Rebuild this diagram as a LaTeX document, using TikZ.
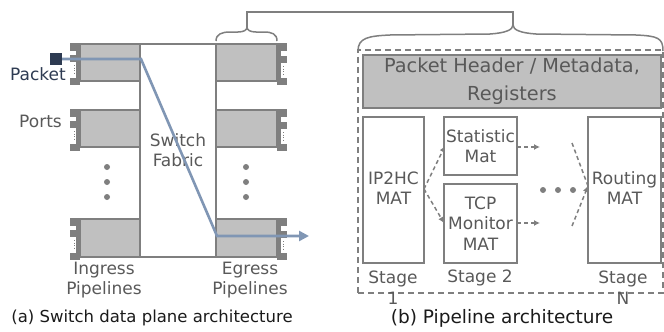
\documentclass[tikz,border=0pt]{standalone}
\usepackage{fontspec}
\setmainfont{DejaVu Sans}
\usetikzlibrary{arrows.meta}
\definecolor{lgray}{HTML}{7F7F7F}
\definecolor{fgray}{HTML}{C0C0C0}
\definecolor{tgray}{HTML}{595959}
\definecolor{navy}{HTML}{2E3B52}
\definecolor{pblue}{HTML}{8096B4}
\definecolor{cap}{HTML}{1A1A1A}
\tikzset{
  pipebox/.style={draw=lgray, line width=1.5pt, fill=fgray, inner sep=0pt, outer sep=0pt, anchor=north west},
  wbox/.style={draw=lgray, line width=1.5pt, fill=white, inner sep=0pt, outer sep=0pt, anchor=north west},
  txt/.style={text=tgray, font=\fontsize{17}{20.5}\selectfont, align=center, inner sep=0pt},
  captxt/.style={text=cap, inner sep=0pt},
  tab/.style={fill=lgray},
  dotcol/.style={fill=lgray},
  flow/.style={draw=pblue, line width=2.6pt},
  darr/.style={draw=lgray, line width=1.5pt, dash pattern=on 4pt off 3pt, -{Latex[length=6pt,width=6pt]}},
  dline/.style={draw=lgray, line width=1.5pt, dash pattern=on 4pt off 3pt},
  brace/.style={draw=lgray, line width=1.5pt},
}
\newcommand{\porttabsL}[1]{%
  \fill[tab] (70,#1-1) rectangle (80,#1+7);
  \fill[tab] (76,#1+7) rectangle (80,#1+41);
  \fill[tab] (70,#1+11) rectangle (80,#1+18);
  \fill[tab] (70,#1+34) rectangle (80,#1+41);
  \draw[lgray, line width=0.8pt, dash pattern=on 1pt off 1.5pt] (74,#1+21) -- (74,#1+31);
}
\newcommand{\porttabsR}[1]{%
  \fill[tab] (277,#1-1) rectangle (287,#1+7);
  \fill[tab] (277,#1+7) rectangle (281,#1+41);
  \fill[tab] (277,#1+12) rectangle (287,#1+19);
  \fill[tab] (277,#1+34) rectangle (287,#1+41);
  \draw[lgray, line width=0.8pt, dash pattern=on 1pt off 1.5pt] (283,#1+22) -- (283,#1+31);
}
\begin{document}
\begin{tikzpicture}[x=1pt, y=-1pt]
\useasboundingbox (0,0) rectangle (664,332);
% switch fabric
\node[wbox, minimum width=76pt, minimum height=213pt] (fab) at (140,44) {};
\node[txt] (fabt) at (178,150) {Switch\\Fabric};
% ingress
\node[pipebox, minimum width=60pt, minimum height=37pt] (in1) at (80,44) {};
\node[pipebox, minimum width=60pt, minimum height=37pt] (in2) at (80,110) {};
\node[pipebox, minimum width=60pt, minimum height=38pt] (in3) at (80,219) {};
% egress
\node[pipebox, minimum width=61pt, minimum height=37pt] (eg1) at (216,44) {};
\node[pipebox, minimum width=61pt, minimum height=37pt] (eg2) at (216,110) {};
\node[pipebox, minimum width=61pt, minimum height=38pt] (eg3) at (216,219) {};
\porttabsL{44}
\porttabsL{110}
\porttabsL{219}
\porttabsR{44}
\porttabsR{110}
\porttabsR{219}
% vertical dots
\foreach \yy in {167,182,197}{
  \fill[dotcol] (107,\yy) circle (3pt);
  \fill[dotcol] (246,\yy) circle (3pt);
}
% labels
\node[text=navy, font=\fontsize{17}{20}\selectfont, inner sep=0pt, anchor=east] (pktl) at (66,74) {Packet};
\node[txt, anchor=east] (ports) at (62,121) {Ports};
\node[txt] (ingl) at (104,280) {Ingress\\Pipelines};
\node[txt] (egl) at (250,280) {Egress\\Pipelines};
% packet flow
\node[fill=navy, minimum size=12pt, inner sep=0pt] (pkt) at (56,59) {};
\coordinate (f1) at (141,59);
\coordinate (f2) at (217,236);
\coordinate (f3) at (309,236);
\draw[flow, -{Triangle[length=10pt,width=10pt]}] (pkt.east) -- (f1) -- (f2) -- (f3);
% small brace over egress
\coordinate (sb) at (247,27);
\draw[brace] (216,41) .. controls (216,34) and (222,32) .. (230,32) -- (238,32) .. controls (244,32) and (247,30) .. (sb)
  .. controls (247,30) and (250,32) .. (256,32) -- (264,32) .. controls (272,32) and (277,34) .. (277,41);
% big brace
\coordinate (bb) at (513,25);
\draw[brace] (358,51) .. controls (358,38) and (368,36) .. (390,35) -- (490,34) .. controls (505,33) and (513,30) .. (bb)
  .. controls (513,30) and (521,33) .. (536,34) -- (636,35) .. controls (658,36) and (663,38) .. (663,51);
\draw[brace] (sb) |- (513,12) -- (bb);
% pipeline box
\node[draw=lgray, line width=1.5pt, dash pattern=on 6pt off 4pt, inner sep=0pt, outer sep=0pt, anchor=north west, minimum width=305pt, minimum height=243pt] (pipe) at (358,50) {};
\node[pipebox, minimum width=298pt, minimum height=53pt] (hdr) at (363,55) {};
\node[text=tgray, font=\fontsize{19.3}{28}\selectfont, align=center, inner sep=0pt] (hdrt) at (512,81.5) {Packet Header / Metadata,\\Registers};
\node[wbox, minimum width=61pt, minimum height=146pt] (ip) at (363,117) {};
\node[txt] (ipt) at (393.5,188) {IP2HC\\MAT};
\node[wbox, minimum width=73pt, minimum height=58pt] (st) at (444,117) {};
\node[txt] (stt) at (480.5,146) {Statistic\\Mat};
\node[wbox, minimum width=73pt, minimum height=79pt] (tcp) at (444,184) {};
\node[txt] (tcpt) at (480.5,223.5) {TCP\\Monitor\\MAT};
\node[wbox, minimum width=73pt, minimum height=146pt] (rt) at (588,117) {};
\node[txt] (rtt) at (624.5,188) {Routing\\MAT};
% stage labels
\node[txt, font=\fontsize{17}{21}\selectfont] (s1) at (393,287.5) {Stage\\1};
\node[txt] (s2) at (480,277.5) {Stage 2};
\node[txt, font=\fontsize{17}{21}\selectfont] (sn) at (623,287.5) {Stage\\N};
% dashed arrows
\coordinate (ipo) at (424,189);
\draw[darr] (ipo) -- (445,146);
\draw[darr] (ipo) -- (444,223);
\coordinate (sto) at (540,147);
\coordinate (tco) at (540,223);
\draw[darr] (st.east |- sto) -- (sto);
\draw[darr] (tcp.east |- tco) -- (tco);
\coordinate (rin) at (588,186);
\coordinate (ra) at (572,143);
\coordinate (rb) at (572,226);
\draw[dline] (ra) -- (rin);
\draw[darr] (rb) -- (rin);
\foreach \xx in {543,558,573}{ \fill[dotcol] (\xx,190) circle (3pt); }
% captions
\node[captxt, font=\fontsize{16.5}{20}\selectfont] (capa) at (152,318) {(a) Switch data plane architecture};
\node[captxt, font=\fontsize{18.5}{22}\selectfont] (capb) at (502,318) {(b) Pipeline architecture};
\end{tikzpicture}
\end{document}
